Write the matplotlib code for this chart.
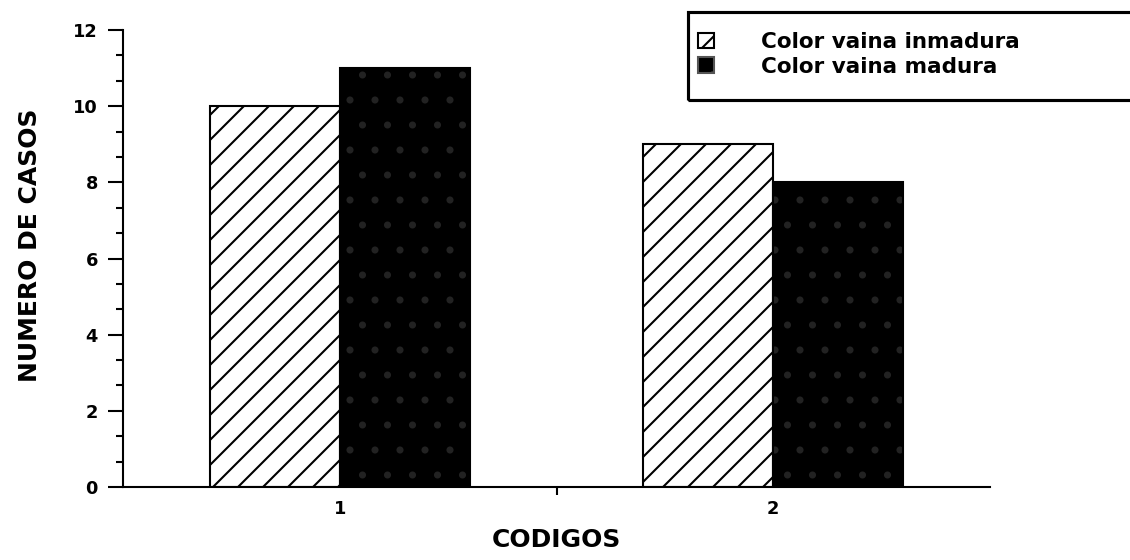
import matplotlib.pyplot as plt
import numpy as np
from matplotlib.patches import Rectangle, Patch
from matplotlib.ticker import MultipleLocator

codigos = ["1", "2"]
inmadura = [10, 9]
madura = [11, 8]
series_labels = ["Color vaina inmadura", "Color vaina madura"]

plt.rcParams['font.family'] = ['DejaVu Sans']
plt.rcParams['hatch.linewidth'] = 1.0

fig = plt.figure(figsize=(1130/150, 560/150), dpi=150)
ax = fig.add_axes([123/1130, 1-487/560, (990-123)/1130, (487-30)/560])

x = np.arange(1, len(codigos)+1)
w = 0.3

ax.bar(x-w/2, inmadura, w, color='white', edgecolor='black', hatch='//', linewidth=1.0)
ax.bar(x+w/2, madura, w, color='black', edgecolor='#222222', hatch='.', linewidth=0)
ax.bar(x+w/2, madura, w, fill=False, edgecolor='black', linewidth=1.0)

ax.set_xlim(0.5, 2.5)
ax.set_ylim(0, 12)
ax.set_xticks(x)
ax.set_xticklabels(codigos, fontsize=8.5, fontweight='bold')
ax.set_xticks([1.5], minor=True)
ax.tick_params(axis='x', which='major', length=0, pad=6)
ax.tick_params(axis='x', which='minor', length=4, width=1.0, direction='out')

ax.set_yticks(np.arange(0, 13, 2))
ax.set_yticklabels([str(v) for v in range(0, 13, 2)], fontweight='bold')
ax.yaxis.set_minor_locator(MultipleLocator(2/3))
ax.tick_params(axis='y', which='major', length=7, width=1.0, direction='out', labelsize=8.5, pad=5)
ax.tick_params(axis='y', which='minor', length=3.5, width=1.0, direction='out')

for s in ['top', 'right']:
    ax.spines[s].set_visible(False)
for s in ['left', 'bottom']:
    ax.spines[s].set_linewidth(1.0)

ax.set_ylabel("NUMERO DE CASOS", fontsize=12, fontweight='bold')
ax.yaxis.set_label_coords(-0.093, 0.53)
ax.set_xlabel("CODIGOS", fontsize=12, fontweight='bold', labelpad=5)

handles = [Patch(facecolor='white', edgecolor='black', hatch='//', linewidth=1.0),
           Patch(facecolor='black', edgecolor='#555555', hatch='.', linewidth=1.0)]
fig.legend(handles, series_labels, loc='upper left',
           bbox_to_anchor=(698/1130, 1-32/560), frameon=False,
           prop={'size': 10.3, 'weight': 'bold'}, handlelength=0.75, handleheight=0.75,
           handletextpad=2.2, labelspacing=0.22, borderpad=0, borderaxespad=0)
fig.patches.append(Rectangle((688/1130, 1-100/560), 0.5, 88/560, transform=fig.transFigure,
                             fill=False, edgecolor='black', linewidth=1.5))

fig.savefig("out.png", dpi=150)
